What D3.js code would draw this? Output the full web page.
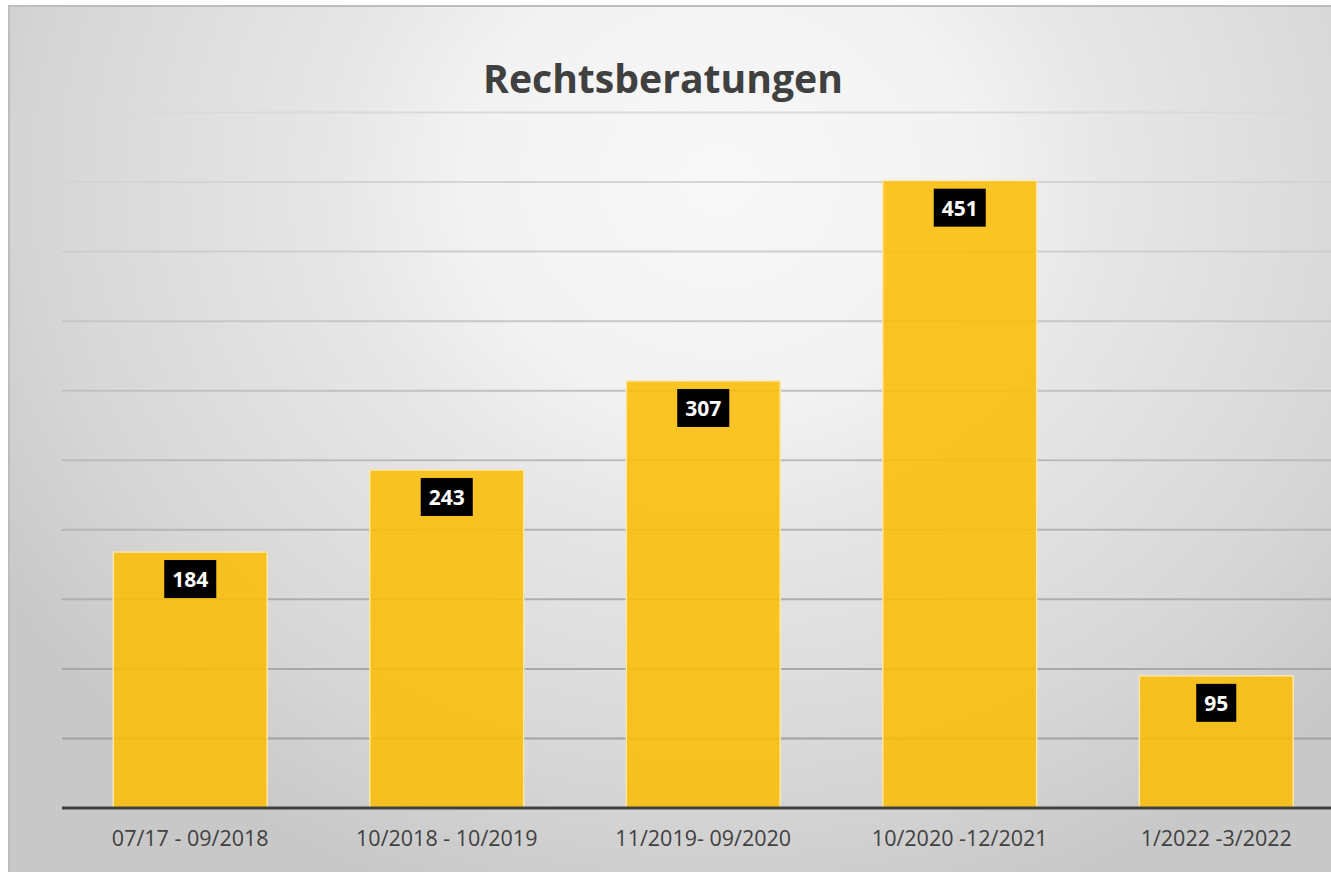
<!DOCTYPE html>
<html>
<head>
<meta charset="utf-8">
<script src="https://cdn.jsdelivr.net/npm/d3@7"></script>
<style>
  body { margin: 0; background: #fff; }
  svg { display: block; }
</style>
</head>
<body>
<div id="chart"></div>
<script>
const categories = ["07/17 - 09/2018", "10/2018 - 10/2019", "11/2019- 09/2020", "10/2020 -12/2021", "1/2022 -3/2022"];
const values = [184, 243, 307, 451, 95];
const yTicks = [50, 100, 150, 200, 250, 300, 350, 400, 450, 500];
const title = "Rechtsberatungen";

const W = 1331, H = 872;
const margin = { top: 112.5, left: 62, bottom: 64 };
const plotRight = 1344.5;   // plot area runs past the right edge of the picture
const baseY = H - margin.bottom;

const svg = d3.select("#chart").append("svg")
    .attr("width", W)
    .attr("height", H);

const defs = svg.append("defs");
const bg = defs.append("radialGradient")
    .attr("id", "bg")
    .attr("gradientUnits", "userSpaceOnUse")
    .attr("cx", 0).attr("cy", 0).attr("r", 1)
    .attr("gradientTransform", "translate(720,180) scale(850,760)");
[[0, "#f8f8f8"], [0.3, "#f2f2f2"], [0.45, "#e7e7e7"], [0.6, "#e0e0e0"], [0.8, "#d6d6d6"], [1, "#c8c8c8"]]
    .forEach(([o, c]) => bg.append("stop").attr("offset", o).attr("stop-color", c));

// chart frame
svg.append("rect")
    .attr("x", 8).attr("y", 5)
    .attr("width", W).attr("height", H)
    .attr("fill", "url(#bg)");
svg.append("path")
    .attr("d", `M9,${H} V6 H${W}`)
    .attr("fill", "none")
    .attr("stroke", "#bdbdbd")
    .attr("stroke-width", 2);

const x = d3.scaleBand()
    .domain(categories)
    .range([margin.left, plotRight])
    .paddingInner(0.4)
    .paddingOuter(0.2);

const y = d3.scaleLinear()
    .domain([0, 500])
    .range([baseY, margin.top]);

// gridlines, getting darker towards the bottom like the original
const gridColor = d3.scaleLinear().domain([500, 50]).range(["#dadada", "#a2a2a2"]);
svg.append("g")
  .selectAll("line")
  .data(yTicks)
  .join("line")
    .attr("x1", margin.left)
    .attr("x2", W)
    .attr("y1", d => y(d))
    .attr("y2", d => y(d))
    .attr("stroke", d => gridColor(d))
    .attr("stroke-width", 2);

// bars
svg.append("g")
  .selectAll("rect")
  .data(values)
  .join("rect")
    .attr("x", (d, i) => x(categories[i]))
    .attr("y", d => y(d))
    .attr("width", x.bandwidth())
    .attr("height", d => baseY - y(d))
    .attr("fill", "#fbbd08")
    .attr("fill-opacity", 0.88)
    .attr("stroke", "#fbe7a8")
    .attr("stroke-width", 1.5);

// x axis
const xAxis = svg.append("g")
    .attr("transform", `translate(0,${baseY})`)
    .call(d3.axisBottom(x).tickSize(0).tickPadding(23));
xAxis.select(".domain")
    .attr("d", `M${margin.left},0H${W}`)
    .attr("stroke", "#404040")
    .attr("stroke-width", 3);
xAxis.selectAll(".tick text")
    .attr("font-family", "'Open Sans', sans-serif")
    .attr("font-size", 21.5)
    .attr("fill", "#404040");

// data labels in black boxes
const labels = svg.append("g")
  .selectAll("g")
  .data(values)
  .join("g")
    .attr("transform", (d, i) => `translate(${x(categories[i]) + x.bandwidth() / 2},${y(d) + 8})`);
labels.append("text")
    .attr("text-anchor", "middle")
    .attr("y", 27)
    .attr("font-family", "'Open Sans', sans-serif")
    .attr("font-weight", "bold")
    .attr("font-size", 21)
    .attr("fill", "#fff")
    .text(d => d);
labels.insert("rect", "text")
    .attr("fill", "#000")
    .each(function () {
        const w = this.parentNode.querySelector("text").getComputedTextLength() + 16;
        d3.select(this).attr("x", -w / 2).attr("y", 0).attr("width", w).attr("height", 38);
    });

// title
const t = svg.append("text")
    .attr("x", 663)
    .attr("y", 93)
    .attr("text-anchor", "middle")
    .attr("font-family", "'Open Sans', sans-serif")
    .attr("font-weight", "bold")
    .attr("font-size", 38)
    .attr("fill", "#404040")
    .text(title);
const tw = t.node().getComputedTextLength();
t.attr("font-size", 38 * 360 / tw);
</script>
</body>
</html>
